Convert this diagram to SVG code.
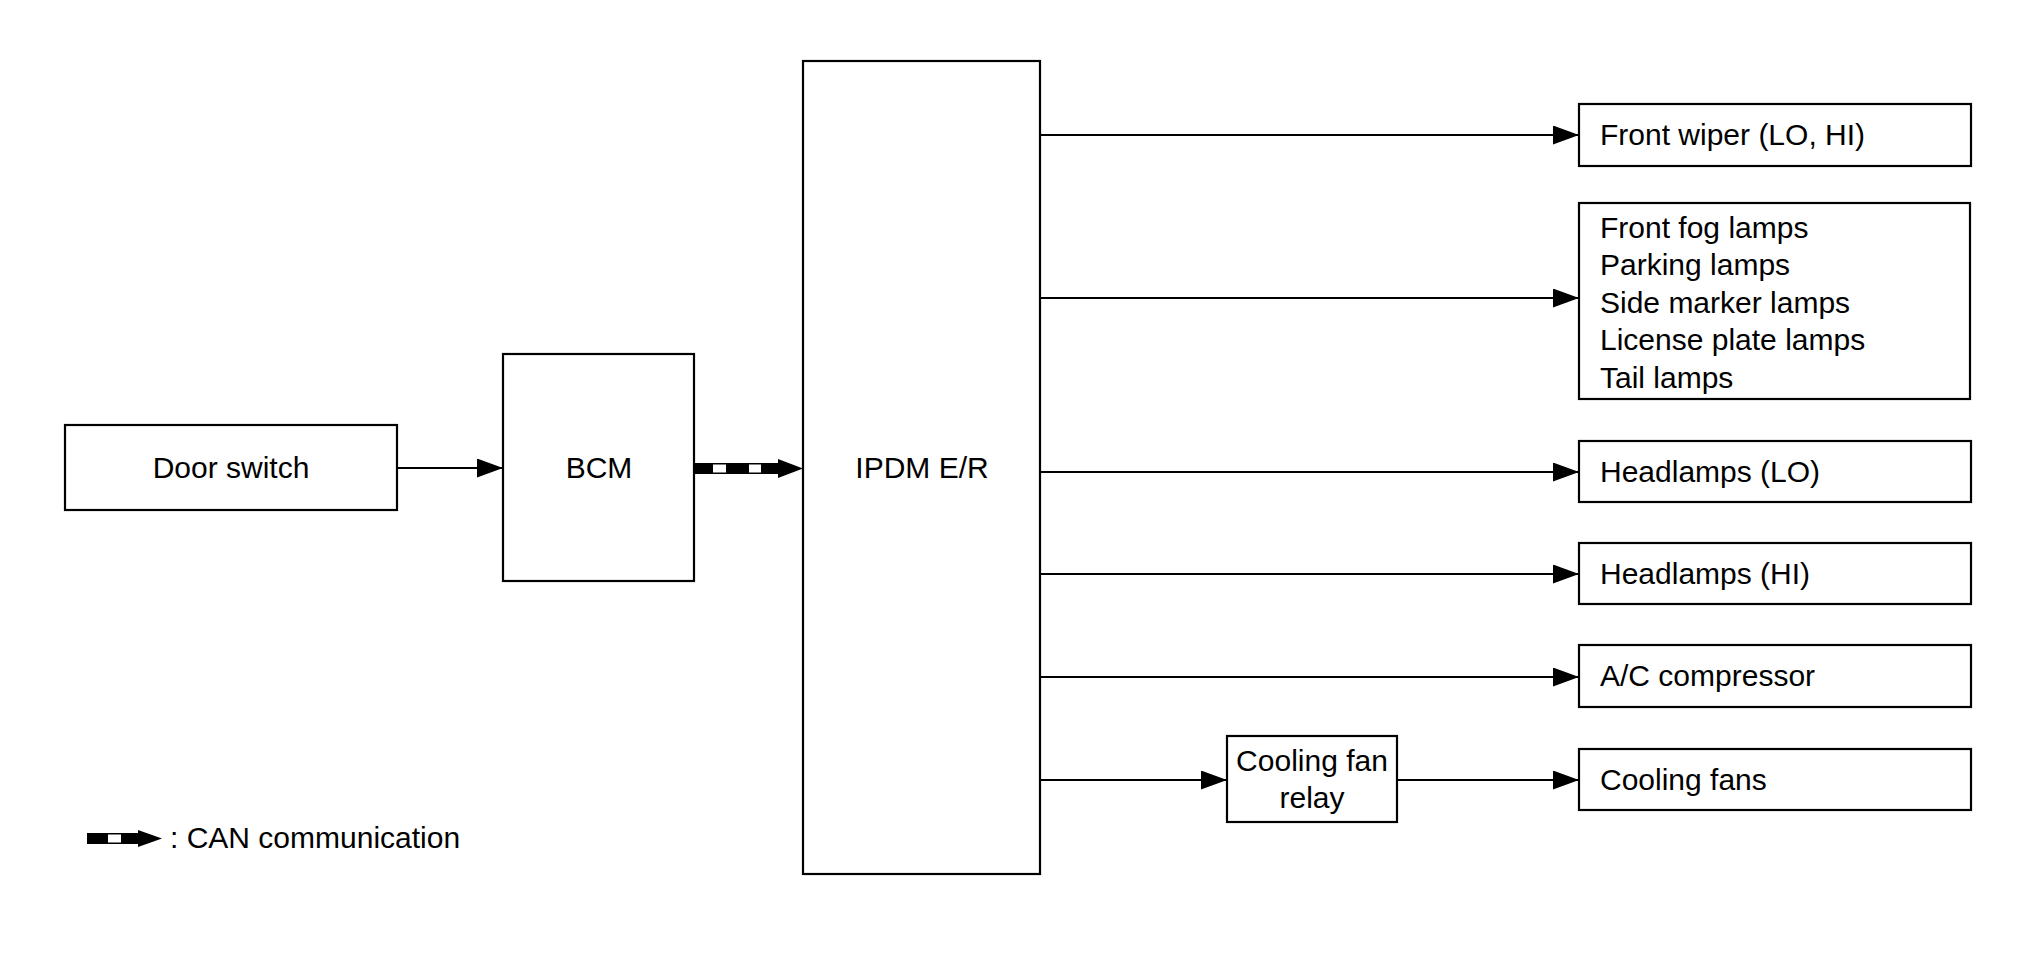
<svg xmlns="http://www.w3.org/2000/svg" width="2021" height="970" viewBox="0 0 2021 970">
<style>
.box{fill:#fff;stroke:#000;stroke-width:2.2}
.ln{fill:none;stroke:#000;stroke-width:2}
.t{font-family:"Liberation Sans",Arial,Helvetica,sans-serif;font-size:30px;fill:#000}
.c{text-anchor:middle}
.blk{fill:#000}
.wht{fill:#fff}
</style>
<defs>
<marker id="ah" viewBox="0 0 26 19" refX="26" refY="9.5" markerWidth="26" markerHeight="19" markerUnits="userSpaceOnUse" orient="auto">
<path d="M0,0 L26,9.5 L0,19 z" fill="#000"/>
</marker>
</defs>
<rect width="2021" height="970" fill="#fff"/>

<g id="door-switch"><rect class="box" x="65" y="425" width="332" height="85"/><text class="t c" x="231" y="478">Door switch</text></g>
<g id="bcm"><rect class="box" x="503" y="354" width="191" height="227"/><text class="t c" x="599" y="478">BCM</text></g>
<g id="ipdm"><rect class="box" x="803" y="61" width="237" height="813"/><text class="t c" x="922" y="478">IPDM E/R</text></g>
<g id="front-wiper"><rect class="box" x="1579" y="104" width="392" height="62"/><text class="t" x="1600" y="145">Front wiper (LO, HI)</text></g>
<g id="lamps"><rect class="box" x="1579" y="203" width="391" height="196"/>
<text class="t" x="1600" y="238">Front fog lamps</text>
<text class="t" x="1600" y="275">Parking lamps</text>
<text class="t" x="1600" y="313">Side marker lamps</text>
<text class="t" x="1600" y="350">License plate lamps</text>
<text class="t" x="1600" y="388">Tail lamps</text></g>
<g id="headlamps-lo"><rect class="box" x="1579" y="441" width="392" height="61"/><text class="t" x="1600" y="482">Headlamps (LO)</text></g>
<g id="headlamps-hi"><rect class="box" x="1579" y="543" width="392" height="61"/><text class="t" x="1600" y="584">Headlamps (HI)</text></g>
<g id="ac-compressor"><rect class="box" x="1579" y="645" width="392" height="62"/><text class="t" x="1600" y="686">A/C compressor</text></g>
<g id="cooling-fans"><rect class="box" x="1579" y="749" width="392" height="61"/><text class="t" x="1600" y="790">Cooling fans</text></g>
<g id="cooling-fan-relay"><rect class="box" x="1227" y="736" width="170" height="86"/>
<text class="t c" x="1312" y="771">Cooling fan</text><text class="t c" x="1312" y="808">relay</text></g>

<g id="connectors">
<line class="ln" x1="397" y1="468" x2="503" y2="468" marker-end="url(#ah)"/>
<g id="can-arrow">
<rect class="blk" x="694" y="463" width="86" height="11"/>
<rect class="wht" x="713" y="464.5" width="13" height="8"/>
<rect class="wht" x="749" y="464.5" width="12" height="8"/>
<path class="blk" d="M778,459 L803,468.5 L778,478 z"/>
</g>
<line class="ln" x1="1040" y1="135" x2="1579" y2="135" marker-end="url(#ah)"/>
<line class="ln" x1="1040" y1="298" x2="1579" y2="298" marker-end="url(#ah)"/>
<line class="ln" x1="1040" y1="472" x2="1579" y2="472" marker-end="url(#ah)"/>
<line class="ln" x1="1040" y1="574" x2="1579" y2="574" marker-end="url(#ah)"/>
<line class="ln" x1="1040" y1="677" x2="1579" y2="677" marker-end="url(#ah)"/>
<line class="ln" x1="1040" y1="780" x2="1227" y2="780" marker-end="url(#ah)"/>
<line class="ln" x1="1397" y1="780" x2="1579" y2="780" marker-end="url(#ah)"/>
</g>

<g id="legend">
<rect class="blk" x="87" y="833" width="53" height="11"/>
<rect class="wht" x="108" y="834.5" width="13" height="8"/>
<path class="blk" d="M138,830 L162,838.5 L138,847 z"/>
<text class="t" x="170" y="848">: CAN communication</text>
</g>
</svg>
